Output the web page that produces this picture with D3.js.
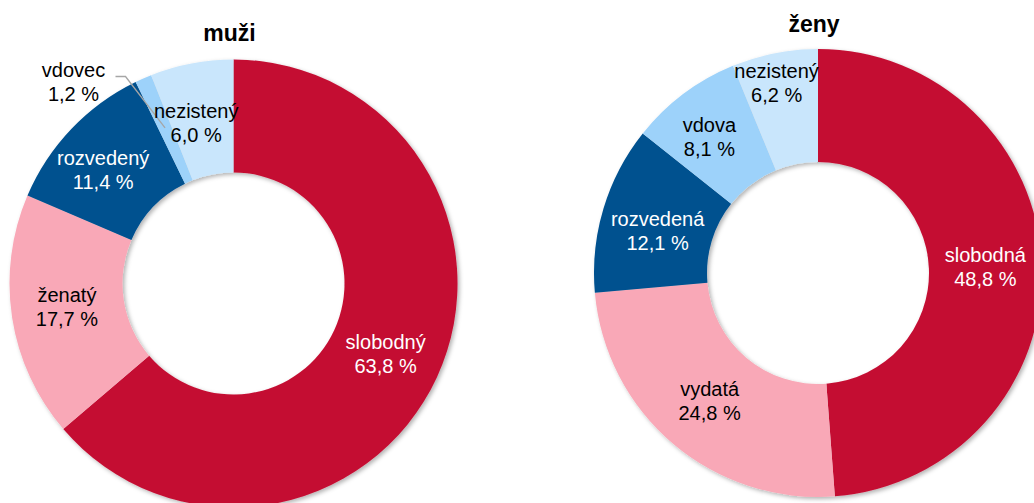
<!DOCTYPE html>
<html>
<head>
<meta charset="utf-8">
<script src="https://cdn.jsdelivr.net/npm/d3@7"></script>
<style>
  body { margin: 0; background: #fff; }
  svg { display: block; font-family: "Liberation Sans", Arial, sans-serif; }
</style>
</head>
<body>
<svg width="1034" height="503"></svg>
<script>
// data
const menLabels = ["slobodný", "ženatý", "rozvedený", "vdovec", "nezistený"];
const menValues = [63.8, 17.7, 11.4, 1.2, 6.0];
const womenLabels = ["slobodná", "vydatá", "rozvedená", "vdova", "nezistený"];
const womenValues = [48.8, 24.8, 12.1, 8.1, 6.2];
const colors = ["#c40d33", "#f9a8b7", "#00518f", "#9dd2fa", "#c9e6fc"];
const textColors = ["#fff", "#000", "#fff", "#000", "#000"];

const svg = d3.select("svg");

const defs = svg.append("defs");
defs.append("filter").attr("id", "shadow")
  .attr("x", "-10%").attr("y", "-10%").attr("width", "120%").attr("height", "120%")
  .append("feDropShadow")
  .attr("dx", 2).attr("dy", 2).attr("stdDeviation", 2)
  .attr("flood-color", "#000").attr("flood-opacity", 0.3);

const fmt = v => d3.format(".1f")(v).replace(".", ",") + " %";

function donut(cx, cy, title, titleY, labels, values, nudge, outside) {
  const outer = 224, inner = 111;
  const g = svg.append("g").attr("transform", `translate(${cx},${cy})`);
  const pie = d3.pie().sort(null).value(d => d)(values);
  const arc = d3.arc().innerRadius(inner).outerRadius(outer);

  g.append("g").attr("filter", "url(#shadow)")
    .selectAll("path")
    .data(pie)
    .enter().append("path")
    .attr("d", arc)
    .attr("fill", (d, i) => colors[i]);

  svg.append("text")
    .attr("x", cx - 4).attr("y", titleY)
    .attr("text-anchor", "middle")
    .attr("font-size", 23).attr("font-weight", "bold")
    .text(title);

  pie.forEach((d, i) => {
    let [x, y] = arc.centroid(d);
    let color = textColors[i];
    if (outside && outside.index === i) {
      x = outside.x; y = outside.y; color = "#000";
      // leader line
      const [ex, ey] = d3.arc().innerRadius(170).outerRadius(170).centroid(d);
      g.append("path")
        .attr("d", `M${outside.lx},${outside.ly}H${outside.lx + 10}L${ex},${ey}`)
        .attr("fill", "none").attr("stroke", "#a6a6a6").attr("stroke-width", 1.3);
    }
    const n = nudge[i] || [0, 0];
    x += n[0]; y += n[1];
    const t = g.append("text")
      .attr("text-anchor", "middle")
      .attr("font-size", 20)
      .attr("fill", color);
    t.append("tspan").attr("x", x).attr("y", y - 4.5).text(labels[i]);
    t.append("tspan").attr("x", x).attr("y", y + 19.5).text(fmt(values[i]));
  });
}

donut(233.5, 283.5, "muži", 41, menLabels, menValues,
  {1: [-1, -2], 2: [-9, 2], 4: [-6, 4]},
  {index: 3, x: -160, y: -202, lx: -118, ly: -207});

donut(818, 273, "ženy", 32, womenLabels, womenValues,
  {0: [0, 0], 2: [0, 6], 3: [-8, -3], 4: [-9, -26]},
  null);
</script>
</body>
</html>
